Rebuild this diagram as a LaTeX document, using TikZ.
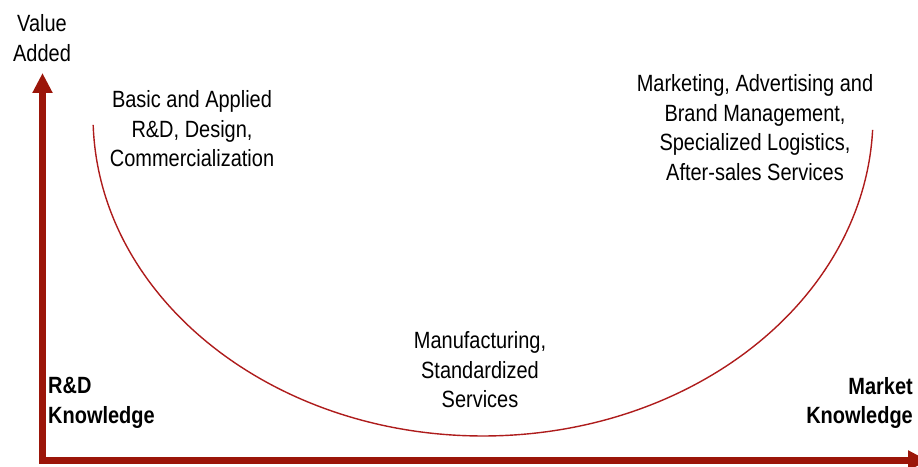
\documentclass[tikz,border=0pt]{standalone}
\usepackage{fontspec}
\setmainfont{Liberation Sans}[FakeStretch=0.85]
\usetikzlibrary{arrows.meta}

\definecolor{axisred}{HTML}{9B1509}
\definecolor{curvered}{HTML}{AE1C1C}

\begin{document}
\begin{tikzpicture}[x=1pt, y=1pt,
  axis/.style={draw=axisred, line width=7pt, line join=miter,
    {Triangle[width=19pt, length=20pt]}-{Triangle[width=19pt, length=20pt]}},
  smile/.style={draw=curvered, line width=1.4pt},
  txt/.style={font=\fontsize{23.5}{29.5}\selectfont, align=center, inner sep=0pt},
  boldtxt/.style={txt, font=\fontsize{23.5}{29.5}\selectfont\bfseries}]
  \clip (0,0) rectangle (918,466);

  % axes
  \coordinate (ytip) at (42.5,393);
  \coordinate (xtip) at (928,5.5);
  \draw[axis] (ytip) |- (xtip);

  % the smile curve
  \coordinate (mid) at (483,350);
  \draw[smile] (mid) ++(181.6:390 and 320)
    arc[start angle=181.6, end angle=357.5, x radius=390, y radius=320];

  % labels
  \node[txt] (valueadded) at (42,428) {Value\\Added};
  \node[txt] (basic) at (192,337) {Basic and Applied\\R\&D, Design,\\Commercialization};
  \node[txt] (marketing) at (755,338.5) {Marketing, Advertising and\\Brand Management,\\Specialized Logistics,\\After-sales Services};
  \node[txt] (manufacturing) at (480,96) {Manufacturing,\\Standardized\\Services};
  \node[boldtxt, anchor=west, align=left] (rdknow) at (48,63) {R\&D\\Knowledge};
  \node[boldtxt, anchor=east, align=right] (marketknow) at (913,63) {Market\\Knowledge};
\end{tikzpicture}
\end{document}
